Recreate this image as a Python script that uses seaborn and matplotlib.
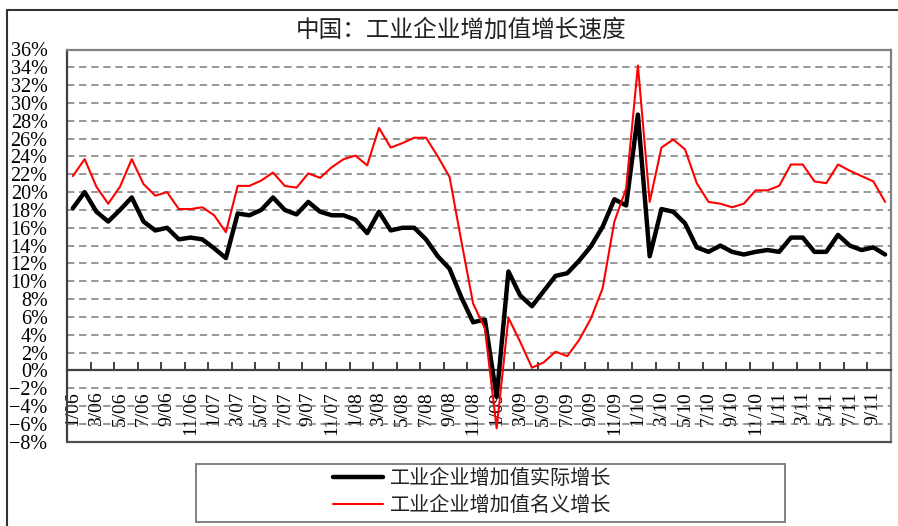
import numpy as np
import pandas as pd
import matplotlib
matplotlib.use("Agg")
import matplotlib.pyplot as plt
from matplotlib.ticker import FixedLocator, FixedFormatter
from matplotlib.lines import Line2D
from matplotlib.patches import Rectangle
import seaborn as sns

# ---------------- data ----------------
title = "中国：工业企业增加值增长速度"
series_real_name = "工业企业增加值实际增长"
series_nominal_name = "工业企业增加值名义增长"

# monthly, Jan 2006 .. Oct 2011 (70 months)
real_growth = [
    18.2, 20.0, 17.8, 16.7, 18.0, 19.4, 16.7, 15.7, 16.0, 14.7, 14.9, 14.7,   # 2006
    13.7, 12.6, 17.6, 17.4, 18.0, 19.4, 18.0, 17.5, 18.9, 17.8, 17.4, 17.4,   # 2007
    16.9, 15.4, 17.8, 15.7, 16.0, 16.0, 14.7, 12.8, 11.4, 8.2, 5.4, 5.7,      # 2008
    -3.0, 11.1, 8.4, 7.2, 8.9, 10.6, 10.9, 12.3, 13.9, 16.1, 19.2, 18.5,      # 2009
    28.7, 12.8, 18.1, 17.8, 16.5, 13.8, 13.3, 14.0, 13.3, 13.0, 13.3, 13.5,   # 2010
    13.3, 14.9, 14.9, 13.3, 13.3, 15.2, 14.0, 13.5, 13.8, 13.0,               # 2011
]
nominal_growth = [
    21.8, 23.7, 20.6, 18.7, 20.6, 23.7, 20.9, 19.6, 20.0, 18.1, 18.1, 18.3,   # 2006
    17.4, 15.5, 20.7, 20.7, 21.3, 22.2, 20.7, 20.5, 22.1, 21.6, 22.8, 23.7,   # 2007
    24.1, 23.0, 27.2, 25.0, 25.5, 26.1, 26.1, 24.0, 21.7, 14.5, 7.5, 4.7,     # 2008
    -6.5, 5.9, 3.2, 0.3, 0.9, 2.1, 1.6, 3.4, 5.8, 9.2, 16.7, 20.4,            # 2009
    34.2, 18.9, 25.0, 25.9, 24.8, 21.0, 18.9, 18.7, 18.3, 18.7, 20.2, 20.2,   # 2010
    20.7, 23.1, 23.1, 21.2, 21.0, 23.1, 22.4, 21.8, 21.2, 18.9,               # 2011
]
x_tick_labels = [f"{m}/{y:02d}" for y in range(6, 12) for m in (1, 3, 5, 7, 9, 11)][:35]
y_ticks = list(range(-8, 37, 2))
y_tick_labels = [(f"−{abs(v)}%" if v < 0 else f"{v}%") for v in y_ticks]

# ---------------- plotting ----------------
sns.set_theme(style="white")
plt.rcParams["font.family"] = ["Liberation Serif", "Noto Sans CJK SC"]
plt.rcParams["axes.unicode_minus"] = True

n = len(real_growth)
df = pd.DataFrame({
    "idx": np.arange(n),
    "real": real_growth,
    "nominal": nominal_growth,
})

W, H = 898, 526
fig = plt.figure(figsize=(W / 100, H / 100), dpi=100)
ax = fig.add_axes([67 / W, 1 - 441.7 / H, (891 - 67) / W, (441.7 - 49.5) / H])

sns.lineplot(data=df, x="idx", y="real", ax=ax, color="black", lw=3.2,
             label=series_real_name, zorder=4)
sns.lineplot(data=df, x="idx", y="nominal", ax=ax, color="#ff0000", lw=1.5,
             label=series_nominal_name, zorder=5)

ax.set_xlim(-0.5, n - 0.5)
ax.set_ylim(-8, 36)
ax.set_xlabel("")
ax.set_ylabel("")

# y axis
ax.yaxis.set_major_locator(FixedLocator(y_ticks))
ax.yaxis.set_major_formatter(FixedFormatter(y_tick_labels))
ax.tick_params(axis="y", which="major", length=0, pad=14, labelsize=14.5,
               labelcolor="black")
ax.yaxis.grid(True, color="#7a7a7a", lw=1.1, linestyle=(0, (4.8, 3.1)))
ax.xaxis.grid(False)
ax.set_axisbelow(True)

# x axis: spine at zero, ticks at category boundaries, labels at centres
ax.spines["bottom"].set_position(("data", 0))
ax.xaxis.set_major_locator(FixedLocator(np.arange(-0.5, n, 2.0)))
ax.xaxis.set_major_formatter(FixedFormatter([""] * len(np.arange(-0.5, n, 2.0))))
ax.xaxis.set_minor_locator(FixedLocator(np.arange(0, n, 2)))
ax.xaxis.set_minor_formatter(FixedFormatter(x_tick_labels))
ax.tick_params(axis="x", which="major", direction="in", length=5.5, width=1.4,
               color="#404040", bottom=True)
ax.tick_params(axis="x", which="minor", length=0, pad=15, labelsize=14,
               labelrotation=90, labelcolor="black", bottom=True)
for lab in ax.get_xticklabels(minor=True):
    lab.set_verticalalignment("top")

for s in ["left", "bottom"]:
    ax.spines[s].set_color("#404040")
    ax.spines[s].set_linewidth(1.6)
for s in ["top", "right"]:
    ax.spines[s].set_color("#808080")
    ax.spines[s].set_linewidth(1.6)
    ax.spines[s].set_visible(True)

# plot-area bottom border at -8%
ax.axhline(-8, color="#505050", lw=1.6, clip_on=False, zorder=6)

# chart-area border (top and left visible)
fig.add_artist(Line2D([7 / W, 1.0], [1 - 10 / H, 1 - 10 / H], color="#333333",
                      lw=1.5, transform=fig.transFigure))
fig.add_artist(Line2D([7 / W, 7 / W], [0, 1 - 10 / H], color="#333333",
                      lw=1.5, transform=fig.transFigure))

# title
fig.text(461 / W, 1 - 30 / H, title, ha="center", va="center", fontsize=17,
         family=["Noto Sans CJK SC"], color="#222222")

# legend
handles, labels = ax.get_legend_handles_labels()
ax.get_legend().remove()
fig.add_artist(Rectangle((196 / W, 1 - 522 / H), (785 - 196) / W, (522 - 464) / H,
                         transform=fig.transFigure, fill=False,
                         edgecolor="#808080", lw=1.4))
leg = fig.legend(handles, labels, loc="center",
                 bbox_to_anchor=(472 / W, 1 - 492 / H),
                 frameon=False, handlelength=2.5, handletextpad=0.3,
                 labelspacing=0.3, borderaxespad=0,
                 prop={"family": ["Noto Sans CJK SC"], "size": 14.5})
for t in leg.get_texts():
    t.set_color("#222222")

fig.savefig("out.png", dpi=100)
